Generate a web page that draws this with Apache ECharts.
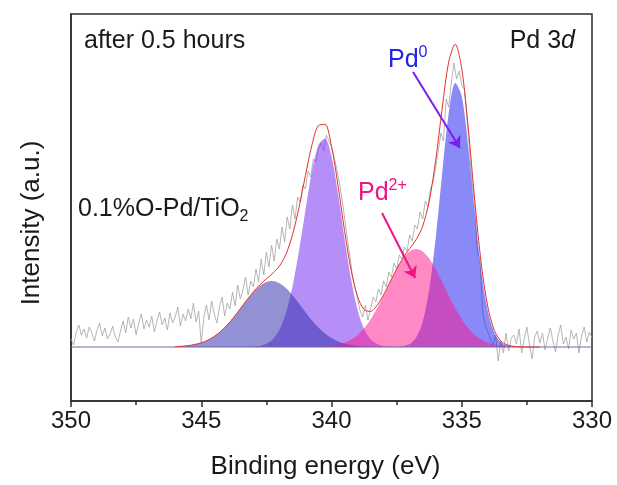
<!DOCTYPE html>
<html>
<head>
<meta charset="utf-8">
<script src="https://cdn.jsdelivr.net/npm/echarts@6/dist/echarts.min.js"></script>
<style>
  html, body { margin: 0; padding: 0; background: #fff; }
  #chart { width: 617px; height: 485px; }
</style>
</head>
<body>
<div id="chart"></div>
<script>
// raw spectrum, 350.0 -> 330.0 eV every 0.1 eV (height above background)
var rawStart = 350, rawStep = 0.1;
var rawCounts = [
  8, 2, 15, 22, 12, 18, 9, 20, 14, 6,
  17, 24, 11, 19, 8, 13, 21, 10, 5, 16,
  26, 14, 30, 19, 28, 12, 24, 33, 18, 27,
  20, 31, 15, 26, 35, 22, 29, 17, 34, 24,
  30, 40, 21, 33, 26, 38, 28, 44, 25, 36,
  4, 30, 42, 27, 46, 33, 24, 40, 50, 31,
  44, 38, 55, 41, 62, 48, 57, 70, 52, 66,
  60, 78, 65, 88, 72, 95, 80, 102, 86, 108,
  98, 120, 105, 130, 118, 142, 128, 150, 145, 162,
  158, 176, 170, 188, 185, 198, 204, 196, 212, 206,
  200, 190, 178, 165, 148, 130, 110, 92, 72, 60,
  48, 36, 30, 42, 27, 38, 50, 45, 58, 52,
  66, 60, 75, 70, 84, 78, 92, 88, 100, 96,
  112, 106, 122, 118, 135, 128, 146, 140, 158, 165,
  180, 196, 214, 206, 248, 240, 265, 284, 268, 276,
  262, 258, 228, 196, 165, 140, 95, 88, 35, 22,
  15, 8, 2, 12, -14, 6, -6, 14, -4, 9,
  12, 3, 18, -6, 8, 20, 2, -12, 10, 16,
  4, 14, -3, 9, 19, 6, -5, 12, 22, 3,
  10, -2, 17, 8, 14, -6, 11, 20, 5, 15,
  9
];

// fitted components, 346.0 -> 332.0 eV every 0.25 eV
var fitStart = 346, fitStep = 0.25;
// Pd2+ 3d3/2
var pd2p32 = [
  0.4, 0.7, 1.4, 2.5, 4.2, 6.8, 10.6, 15.7, 22.1, 29.8,
  38.3, 46.9, 54.8, 61.1, 65.0, 66.0, 63.8, 58.9, 51.8, 43.5,
  34.8, 26.6, 19.4, 13.5, 8.9, 5.6, 3.4, 2.0, 1.1, 0.6,
  0.3, 0.1, 0, 0, 0, 0, 0, 0, 0, 0,
  0, 0, 0, 0, 0, 0, 0, 0, 0, 0,
  0, 0, 0, 0, 0, 0, 0
];
// Pd0 3d3/2
var pd0p32 = [
  0, 0, 0, 0, 0, 0, 0, 0, 0, 0,
  0, 0.1, 0.4, 1.1, 3.2, 7.8, 17.1, 33.8, 60.1, 95.7,
  136.8, 175.4, 201.9, 208.5, 190.6, 153.5, 108.8, 67.9, 37.3, 18.0,
  7.7, 2.9, 0.9, 0.3, 0.1, 0, 0, 0, 0, 0,
  0, 0, 0, 0, 0, 0, 0, 0, 0, 0,
  0, 0, 0, 0, 0, 0, 0
];
// Pd2+ 3d5/2
var pd2p52 = [
  0, 0, 0, 0, 0, 0, 0, 0, 0, 0,
  0, 0, 0, 0, 0, 0, 0, 0, 0, 0,
  0, 0.1, 0.3, 0.6, 1.2, 2.4, 4.3, 7.4, 12.1, 18.8,
  27.6, 38.7, 51.4, 64.8, 77.7, 88.4, 95.5, 98.0, 95.5, 88.4,
  77.7, 64.8, 51.4, 38.7, 27.6, 18.8, 12.1, 7.4, 4.3, 2.4,
  1.2, 0.6, 0.3, 0.1, 0, 0, 0
];
// Pd0 3d5/2
var pd0p52 = [
  0, 0, 0, 0, 0, 0, 0, 0, 0, 0,
  0, 0, 0, 0, 0, 0, 0, 0, 0, 0,
  0, 0, 0, 0, 0, 0, 0, 0, 0, 0,
  0, 0, 0, 0, 0.2, 0.8, 2.9, 9.4, 25.3, 57.3,
  108.9, 174.1, 233.9, 264.1, 250.7, 200.0, 134.2, 75.7, 35.9, 14.3,
  4.8, 1.4, 0.3, 0, 0, 0, 0
];

var xTicks = [350, 345, 340, 335, 330];

var font = "'Liberation Sans', Arial, sans-serif";
var ink = "#1a1a1a";

// 拼成 [能量, 强度]
function pairs(start, step, arr) {
  return arr.map(function (v, i) {
    return [+(start - i * step).toFixed(2), v];
  });
}

// 包络线 = 四个分峰之和
var envelope = pd2p32.map(function (v, i) {
  return +(v + pd0p32[i] + pd2p52[i] + pd0p52[i]).toFixed(1);
});

function area(name, arr, color, z) {
  return {
    name: name,
    type: "line",
    data: pairs(fitStart, fitStep, arr),
    smooth: 0.3,
    showSymbol: false,
    lineStyle: { width: 0 },
    areaStyle: { color: color, opacity: 1 },
    z: z
  };
}

var option = {
  animation: false,
  backgroundColor: "#fff",
  grid: {
    left: 71,
    right: 25,
    top: 14,
    bottom: 84,
    show: true,
    borderColor: "#2b2b2b",
    borderWidth: 1.5
  },
  xAxis: {
    type: "value",
    min: xTicks[xTicks.length - 1],
    max: xTicks[0],
    interval: 5,
    inverse: true,
    name: "Binding energy (eV)",
    nameLocation: "middle",
    nameGap: 53,
    nameTextStyle: { fontSize: 26, color: ink, fontFamily: font, padding: [0, 12, 0, 0] },
    axisLine: { onZero: false, lineStyle: { color: "#2b2b2b", width: 1.5 } },
    axisTick: { length: 6, lineStyle: { color: "#2b2b2b", width: 1.5 } },
    minorTick: { show: true, splitNumber: 2, length: 4, lineStyle: { color: "#2b2b2b", width: 1.5 } },
    axisLabel: { fontSize: 24, color: ink, fontFamily: font, margin: 8 },
    splitLine: { show: false }
  },
  yAxis: {
    type: "value",
    min: -54,
    max: 333,
    axisLine: { show: true, lineStyle: { color: "#2b2b2b", width: 1.5 } },
    axisTick: { show: false },
    axisLabel: { show: false },
    splitLine: { show: false }
  },
  graphic: [
    {
      // y 轴标题
      type: "text", x: 32, y: 223, rotation: Math.PI / 2,
      style: {
        text: "Intensity (a.u.)", font: "26px " + font, fill: ink,
        align: "center", verticalAlign: "middle"
      }
    },
    {
      type: "text", left: 84, top: 29,
      style: { text: "after 0.5 hours", font: "25px " + font, fill: ink }
    },
    {
      type: "text", right: 42, top: 29,
      style: {
        text: "{a|Pd 3}{i|d}",
        rich: {
          a: { fontSize: 25, fontFamily: font, fill: ink },
          i: { fontSize: 25, fontFamily: font, fill: ink, fontStyle: "italic" }
        }
      }
    },
    {
      type: "text", left: 388, top: 45,
      style: {
        text: "{a|Pd}{s|0}",
        rich: {
          a: { fontSize: 25, fontFamily: font, fill: "#2323e6", lineHeight: 30 },
          s: { fontSize: 16, fontFamily: font, fill: "#2323e6", verticalAlign: "top", lineHeight: 30 }
        }
      }
    },
    {
      type: "text", left: 358, top: 178,
      style: {
        text: "{a|Pd}{s|2+}",
        rich: {
          a: { fontSize: 25, fontFamily: font, fill: "#ee1583", lineHeight: 30 },
          s: { fontSize: 16, fontFamily: font, fill: "#ee1583", verticalAlign: "top", lineHeight: 30 }
        }
      }
    },
    {
      type: "text", left: 78, top: 197,
      style: {
        text: "{a|0.1%O-Pd/TiO}{s|2}",
        rich: {
          a: { fontSize: 25, fontFamily: font, fill: ink, lineHeight: 30 },
          s: { fontSize: 16, fontFamily: font, fill: ink, verticalAlign: "bottom", lineHeight: 9 }
        }
      }
    }
  ],
  series: [
    {
      name: "raw",
      type: "line",
      data: pairs(rawStart, rawStep, rawCounts),
      showSymbol: false,
      lineStyle: { color: "#a3a3a3", width: 0.8 },
      z: 2
    },
    // 叠放次序: 紫在下, 灰蓝盖上; 蓝在下, 粉盖上
    area("Pd0 3d3/2", pd0p32, "rgba(120,50,240,0.55)", 3),
    area("Pd2+ 3d3/2", pd2p32, "rgba(45,45,170,0.52)", 3),
    area("Pd0 3d5/2", pd0p52, "rgba(20,20,240,0.5)", 3),
    area("Pd2+ 3d5/2", pd2p52, "rgba(255,20,140,0.5)", 3),
    {
      name: "background",
      type: "line",
      data: [[350, 0], [330, 0]],
      showSymbol: false,
      lineStyle: { color: "#6a6aa8", width: 1 },
      z: 4,
      // 箭头
      markLine: {
        silent: true,
        symbol: ["none", "arrow"],
        symbolSize: 11,
        label: { show: false },
        data: [
          [
            { coord: [336.87, 275], lineStyle: { color: "#7d1cf0", width: 2, type: "solid" } },
            { coord: [335.07, 199] }
          ],
          [
            { coord: [338.06, 134], lineStyle: { color: "#ee1583", width: 2, type: "solid" } },
            { coord: [336.79, 69] }
          ]
        ]
      }
    },
    {
      name: "envelope",
      type: "line",
      data: pairs(fitStart, fitStep, envelope),
      smooth: 0.3,
      showSymbol: false,
      lineStyle: { color: "#e3312b", width: 1 },
      z: 5
    }
  ]
};

echarts.init(document.getElementById("chart")).setOption(option);
</script>
</body>
</html>
